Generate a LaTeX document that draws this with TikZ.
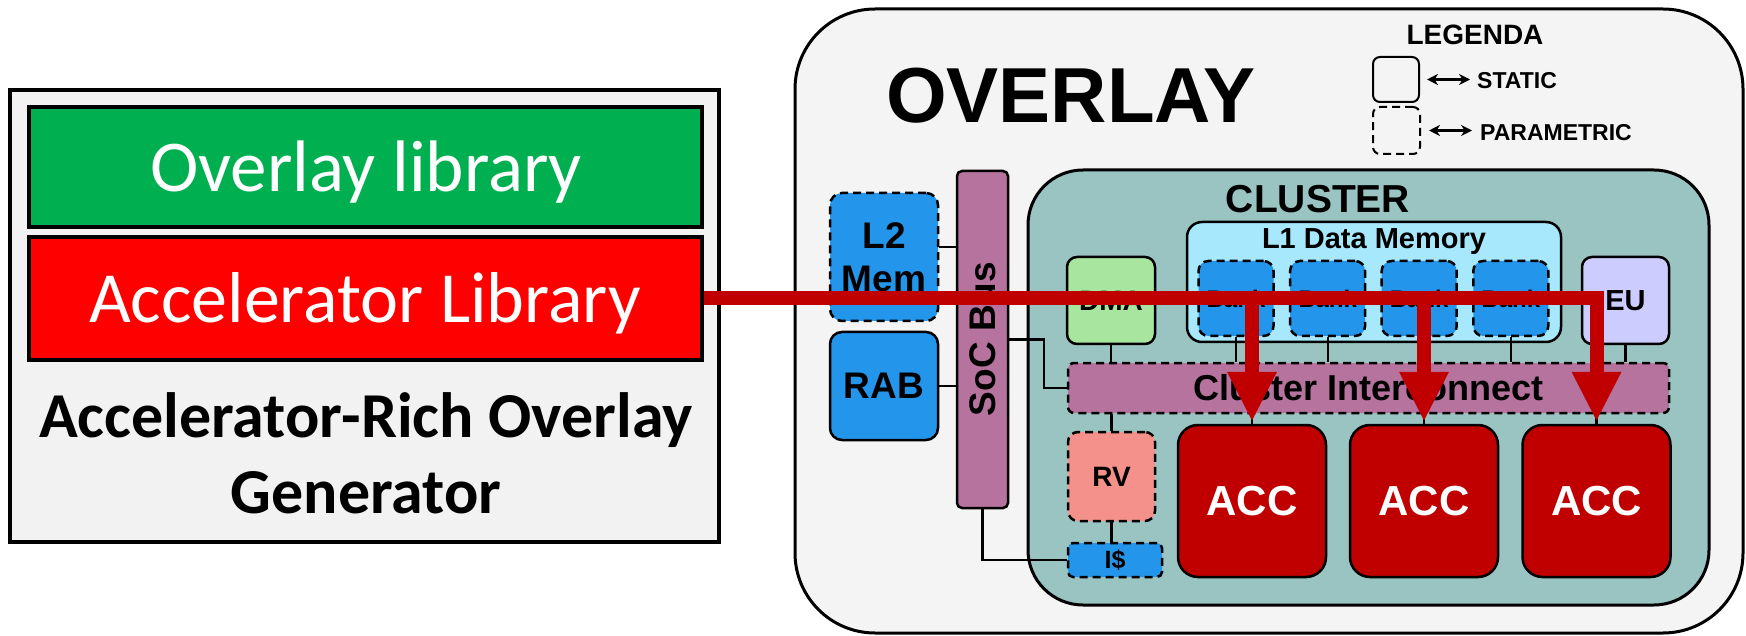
\documentclass[tikz,border=0pt]{standalone}
\usepackage{fontspec}
\setmainfont{Liberation Sans}
\newfontfamily\calibri{Carlito}
\usetikzlibrary{positioning,arrows.meta,calc}
\definecolor{ovgray}{RGB}{244,244,244}
\definecolor{gengray}{RGB}{242,242,242}
\definecolor{libgreen}{RGB}{0,176,80}
\definecolor{libred}{RGB}{255,0,0}
\definecolor{accred}{RGB}{192,0,0}
\definecolor{clteal}{RGB}{154,196,194}
\definecolor{busmauve}{RGB}{181,115,157}
\definecolor{memblue}{RGB}{35,150,236}
\definecolor{lonecyan}{RGB}{168,232,252}
\definecolor{dmagreen}{RGB}{168,230,160}
\definecolor{eulilac}{RGB}{204,204,255}
\definecolor{rvsalmon}{RGB}{244,145,138}
\newcommand{\setfsz}[1]{\fontsize{#1}{#1}\selectfont}

\begin{document}
\begin{tikzpicture}[x=1pt,y=-1pt,
    box/.style={draw=black,line width=2.5pt,rounded corners=#1,inner sep=0pt,font=\bfseries},
    box/.default=10pt,
    param/.style={dash pattern=on 8pt off 5pt},
    libbox/.style={draw=black,line width=3.5pt,inner sep=0pt},
    wire/.style={draw=black,line width=2.2pt},
    legarrow/.style={line width=2.2pt,{Stealth[length=11pt,width=11pt]}-{Stealth[length=11pt,width=11pt]}},
    redarrow/.style={draw=accred,line width=14pt,-{Triangle[width=46pt,length=50pt]}},
  ]
  \useasboundingbox (0,0) rectangle (1746,636);

  % generator side
  \node[libbox,fill=gengray,minimum width=709pt,minimum height=452pt] (gen) at (364.5,316) {};
  \node[libbox,fill=libgreen,minimum width=673pt,minimum height=120pt] (ovlib) at (365.5,167) {};
  \node[libbox,fill=libred,minimum width=673pt,minimum height=123pt] (acclib) at (365.5,298.5) {};
  \node[anchor=base,inner sep=0pt,text=white,font=\calibri\setfsz{73}] (ovlibtxt) at (366,192) {Overlay library};
  \node[anchor=base,inner sep=0pt,text=white,font=\calibri\setfsz{72}] (acclibtxt) at (365,323) {Accelerator Library};
  \node[anchor=base,inner sep=0pt,font=\calibri\bfseries\setfsz{64}] (gentop) at (366,437) {Accelerator-Rich Overlay};
  \node[anchor=base,inner sep=0pt,font=\calibri\bfseries\setfsz{64}] (genbot) at (366,513) {Generator};

  % overlay side
  \node[box=80pt,line width=3pt,fill=ovgray,minimum width=948pt,minimum height=624pt] (overlay) at (1269,321) {};
  \node[anchor=base,inner sep=0pt,font=\bfseries\setfsz{78}] (ovtitle) at (1071,123) {OVERLAY};

  % legend
  \node[anchor=base,inner sep=0pt,font=\bfseries\setfsz{28}] (legtitle) at (1475,45) {LEGENDA};
  \node[box=7pt,line width=2pt,minimum width=46pt,minimum height=45pt] (legst) at (1396,79.5) {};
  \node[box=7pt,line width=2pt,param,minimum width=47pt,minimum height=47pt] (legpa) at (1396.5,130.5) {};
  \node[anchor=base west,inner sep=0pt,font=\bfseries\setfsz{23}] (sttxt) at (1477,89) {STATIC};
  \node[anchor=base west,inner sep=0pt,font=\bfseries\setfsz{23}] (patxt) at (1480,141) {PARAMETRIC};
  \draw[legarrow] ([xshift=7pt]legst.east) -- ([xshift=-7pt]legst.east -| sttxt.west);
  \draw[legarrow] ([xshift=8pt]legpa.east) -- ([xshift=-8pt]legpa.east -| patxt.west);

  % soc level
  \node[box=12pt,param,fill=memblue,minimum width=108pt,minimum height=128pt,
        align=center,font=\bfseries\setfsz{37}] (l2) at (884,257) {L2\\[6pt]Mem};
  \node[box=12pt,fill=memblue,minimum width=108pt,minimum height=108pt,font=\bfseries\setfsz{37}] (rab) at (884,386) {RAB};
  \node[box=5pt,fill=busmauve,minimum width=51pt,minimum height=337pt] (soc) at (982.5,339.5) {};
  \node[rotate=90,inner sep=0pt,font=\bfseries\setfsz{37}] (soctxt) at (982.5,339) {SoC Bus};

  % cluster
  \node[box=55pt,line width=3pt,fill=clteal,minimum width=681pt,minimum height=435pt] (cluster) at (1368.5,387.5) {};
  \node[anchor=base,inner sep=0pt,font=\bfseries\setfsz{39}] (cltitle) at (1318,213) {CLUSTER};
  \node[box=15pt,fill=lonecyan,minimum width=374pt,minimum height=120pt] (l1) at (1374,282) {};
  \node[anchor=base,inner sep=0pt,font=\bfseries\setfsz{29}] (l1txt) at (1374,249) {L1 Data Memory};
  \foreach \i in {1,...,4}{
    \node[box=10pt,param,fill=memblue,minimum width=75pt,minimum height=75pt,
          font=\bfseries\setfsz{24}] (bank\i) at ({1236+91.6*(\i-1)},298.5) {Bank};
  }
  \node[box=10pt,fill=dmagreen,minimum width=88pt,minimum height=87pt,font=\bfseries\setfsz{28}] (dma) at (1111,300.5) {DMA};
  \node[box=10pt,fill=eulilac,minimum width=87pt,minimum height=87pt,font=\bfseries\setfsz{29}] (eu) at (1625.5,300.5) {EU};
  \node[box=6pt,param,fill=busmauve,minimum width=601pt,minimum height=50pt,font=\bfseries\setfsz{36}] (ic) at (1368.5,388) {Cluster Interconnect};
  \node[box=10pt,param,fill=rvsalmon,minimum width=87pt,minimum height=89pt,font=\bfseries\setfsz{28}] (rv) at (1111.5,476.5) {RV};
  \node[box=5pt,param,fill=memblue,minimum width=94pt,minimum height=34pt,font=\bfseries\setfsz{25}] (icache) at (1115,560) {I\$};
  \foreach \i/\x in {1/1252,2/1424,3/1596.5}{
    \node[box=20pt,fill=accred,text=white,minimum width=148pt,minimum height=152pt,
          font=\bfseries\setfsz{42}] (acc\i) at (\x,501) {ACC};
  }

  % wires
  \draw[wire] ([yshift=10pt]l2.east) -- ([yshift=10pt]l2.east -| soc.west);
  \draw[wire] (rab.east) -- (rab.east -| soc.west);
  \draw[wire] (soc.east) -- ++(35,0) |- (ic.west);
  \draw[wire] (soc.south) |- (icache.west);
  \draw[wire] (dma.south) -- (dma.south |- ic.north);
  \foreach \i in {1,...,4}
    \draw[wire] (bank\i.south) -- (bank\i.south |- ic.north);
  \draw[wire] (eu.south) -- (eu.south |- ic.north);
  \draw[wire] (rv.north) -- (rv.north |- ic.south);
  \draw[wire] (rv.south) -- (rv.south |- icache.north);
  \foreach \i in {1,2,3}
    \draw[wire] (acc\i.north) -- (acc\i.north |- ic.south);

  % accelerator library feeds the ACC slots
  \draw[redarrow] (acclib.east) -| ([yshift=2pt]acc3.north);
  \draw[redarrow] (acclib.east -| acc1.north) -- ([yshift=2pt]acc1.north);
  \draw[redarrow] (acclib.east -| acc2.north) -- ([yshift=2pt]acc2.north);
\end{tikzpicture}
\end{document}
